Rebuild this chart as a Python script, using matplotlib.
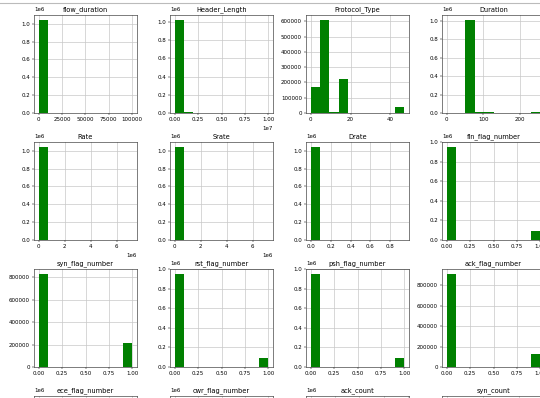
import numpy as np
import matplotlib
matplotlib.use("Agg")
import matplotlib.pyplot as plt
from matplotlib.lines import Line2D
from matplotlib.ticker import MaxNLocator

# === DATA: 10-bin histogram counts per feature ===
names = [
    "flow_duration", "Header_Length", "Protocol_Type", "Duration",
    "Rate", "Srate", "Drate", "fin_flag_number",
    "syn_flag_number", "rst_flag_number", "psh_flag_number", "ack_flag_number",
    "ece_flag_number", "cwr_flag_number", "ack_count", "syn_count",
]

# value range (min, max) of each feature
ranges = [
    (0, 100300), (0, 1.0e7), (0, 47), (0, 255),
    (0, 7.2e6), (0, 7.2e6), (0, 0.94), (0, 1),
    (0, 1), (0, 1), (0, 1), (0, 1),
    (0, 1), (0, 1), (0, 7.7), (0, 12.9),
]

flow_duration = [1045000, 700, 250, 120, 80, 50, 30, 20, 15, 10]
header_length = [1025000, 14000, 4000, 1500, 800, 400, 200, 100, 60, 30]
protocol_type = [172000, 612000, 9000, 224000, 0, 0, 0, 0, 0, 39000]
duration = [2500, 1500, 1010000, 13000, 6000, 3000, 2000, 1500, 1000, 5500]
rate = [1045500, 400, 150, 80, 40, 20, 10, 5, 3, 2]
srate = [1045500, 400, 150, 80, 40, 20, 10, 5, 3, 2]
drate = [1046200, 5, 2, 1, 1, 0, 0, 0, 0, 1]
fin_flag_number = [955000, 0, 0, 0, 0, 0, 0, 0, 0, 91000]
syn_flag_number = [832000, 0, 0, 0, 0, 0, 0, 0, 0, 214000]
rst_flag_number = [954000, 0, 0, 0, 0, 0, 0, 0, 0, 93000]
psh_flag_number = [955000, 0, 0, 0, 0, 0, 0, 0, 0, 91000]
ack_flag_number = [915000, 0, 0, 0, 0, 0, 0, 0, 0, 131000]
ece_flag_number = [1045950, 0, 0, 0, 0, 0, 0, 0, 0, 50]
cwr_flag_number = [1045950, 0, 0, 0, 0, 0, 0, 0, 0, 50]
ack_count = [1020000, 12000, 6000, 3500, 2000, 1200, 700, 400, 150, 50]
syn_count = [650000, 230000, 90000, 40000, 18000, 9000, 5000, 2500, 1000, 500]

counts = [
    flow_duration, header_length, protocol_type, duration,
    rate, srate, drate, fin_flag_number,
    syn_flag_number, rst_flag_number, psh_flag_number, ack_flag_number,
    ece_flag_number, cwr_flag_number, ack_count, syn_count,
]

# === STYLE ===
plt.rcParams.update({
    "font.family": "DejaVu Sans",
    "font.size": 4,
    "axes.titlesize": 4.8,
    "xtick.labelsize": 4,
    "ytick.labelsize": 4,
    "axes.linewidth": 0.45,
    "axes.edgecolor": "#333333",
    "xtick.major.size": 1.5,
    "ytick.major.size": 1.5,
    "xtick.major.width": 0.35,
    "ytick.major.width": 0.35,
    "xtick.major.pad": 1.4,
    "ytick.major.pad": 1.4,
    "axes.titlepad": 2.4,
    "grid.color": "#c8c8c8",
    "grid.linewidth": 0.5,
})

W, H = 540, 398
fig = plt.figure(figsize=(W / 100, H / 100), dpi=100)

# grid of 4 columns, page cropped on both sides
col_left = [34, 170, 306, 442]
row_top = [15, 142, 269, 396]
ax_w, ax_h = 103, 98
steps = [1, 2, 2.5, 5, 10]

for i, name in enumerate(names):
    r, c = divmod(i, 4)
    x0 = col_left[c] / W
    y0 = 1 - (row_top[r] + ax_h) / H
    ax = fig.add_axes([x0, y0, ax_w / W, ax_h / H])
    lo, hi = ranges[i]
    edges = np.linspace(lo, hi, 11)
    ax.hist(edges[:-1], bins=edges, weights=counts[i], color="green")
    ax.set_title(name)
    ax.grid(True)
    ax.set_axisbelow(True)
    # tick density of the full-size pandas grid
    ax.xaxis.set_major_locator(MaxNLocator(nbins=6 if name == "Drate" else 5, steps=steps))
    ax.yaxis.set_major_locator(MaxNLocator(nbins=7, steps=steps))
    ax.xaxis.get_offset_text().set_fontsize(4)
    ax.yaxis.get_offset_text().set_fontsize(4)

# thin frame line along the top
fig.add_artist(Line2D([0, 1], [1 - 3 / H, 1 - 3 / H], color="#bbbbbb", lw=0.8))

plt.savefig("out.png", dpi=100)
plt.close()
